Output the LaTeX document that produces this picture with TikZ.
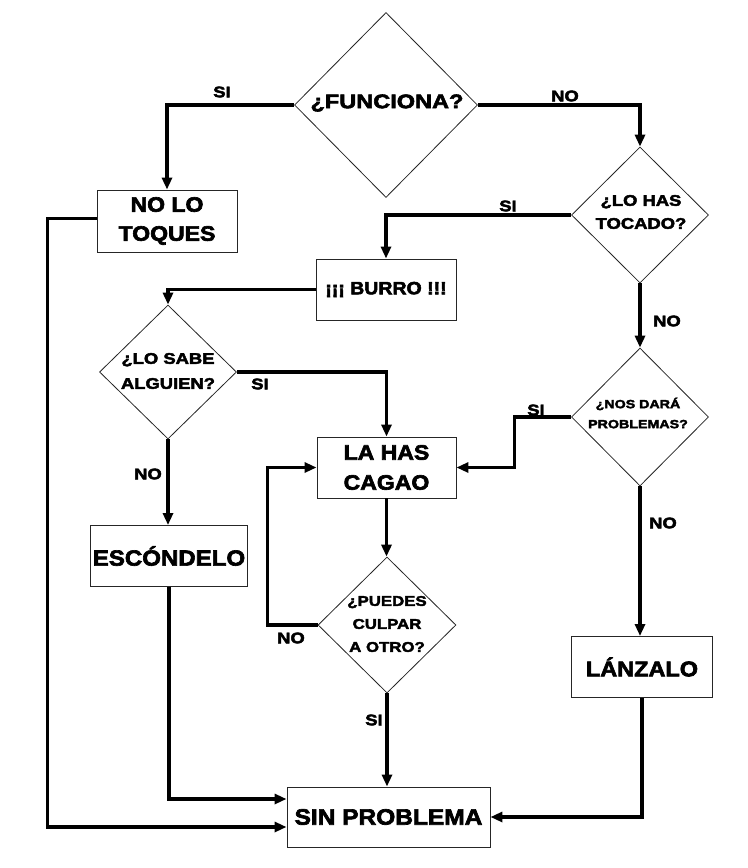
\documentclass[tikz,border=0pt]{standalone}
\usepackage{fontspec}
\usetikzlibrary{shapes.geometric,arrows.meta}
\newfontfamily\fbig{Liberation Sans}[UprightFont=* Bold,FakeStretch=1.1,FakeBold=3]
\newfontfamily\fwide{Liberation Sans}[UprightFont=* Bold,FakeStretch=1.2,FakeBold=3]
\begin{document}
\begin{tikzpicture}[x=0.75pt,y=-0.75pt,
  rbox/.style 2 args={rectangle,draw=black!85,line width=0.7pt,inner sep=0pt,align=center,
    minimum width={#1*0.75pt},minimum height={#2*0.75pt}},
  dia/.style 2 args={diamond,draw=black!85,line width=0.6pt,inner sep=0pt,
    minimum width={#1*0.75pt},minimum height={#2*0.75pt}},
  dtext/.style={inner sep=0pt,align=center},
  conn/.style={line width=2.4pt,-{Triangle[length=9pt,width=7.5pt]}},
  lbl/.style={inner sep=0pt,font=\fwide\fontsize{11.5}{14}\selectfont}]
\fill[white] (0,0) rectangle (748,868);
\useasboundingbox (0,0) rectangle (748,868);

% diamonds
\node[dia={183}{185}] (d1) at (386,105) {};
\node[dtext,font=\fwide\fontsize{14.7}{17}\selectfont] (t1) at (387,103) {¿FUNCIONA?};
\node[dia={137}{136}] (d2) at (640,215) {};
\node[dtext,font=\fwide\fontsize{11.5}{17.25}\selectfont] (t2) at (641,212) {¿LO HAS\\TOCADO?};
\node[dia={137}{134}] (d3) at (168,372) {};
\node[dtext,font=\fwide\fontsize{11.5}{18.75}\selectfont] (t3) at (168,371) {¿LO SABE\\ALGUIEN?};
\node[dia={137}{138}] (d4) at (640,417) {};
\node[dtext,font=\fwide\fontsize{8.9}{15}\selectfont] (t4) at (638,413) {¿NOS DARÁ\\PROBLEMAS?};
\node[dia={138}{136}] (d5) at (387,625) {};
\node[dtext,font=\fwide\fontsize{10.5}{17.25}\selectfont] (t5) at (387,624) {¿PUEDES\\CULPAR\\A OTRO?};

% boxes
\node[rbox={140}{62},font=\fbig\fontsize{15.7}{21.75}\selectfont] (nolo) at (167,221) {NO LO\\TOQUES};
\node[rbox={140}{61},font=\fbig\fontsize{13.3}{16}\selectfont] (burro) at (386,289.5) {¡¡¡ BURRO !!!};
\node[rbox={139}{61},font=\fbig\fontsize{15.7}{22.5}\selectfont] (cagao) at (386.5,467.5) {LA HAS\\CAGAO};
\node[rbox={157}{61},font=\fbig\fontsize{16.4}{20}\selectfont] (esc) at (169,556) {ESCÓNDELO};
\node[rbox={141}{61},font=\fbig\fontsize{16}{20}\selectfont] (lanz) at (642,667) {LÁNZALO};
\node[rbox={203}{60},font=\fbig\fontsize{16.7}{20}\selectfont] (sinp) at (388.5,817) {SIN PROBLEMA};

% connectors
\draw[conn] (d1.west) -| (nolo.north);
\draw[conn] (d1.east) -| (d2.north);
\draw[conn] (d2.west) -| (burro.north);
\draw[conn] (d2.south) -- (d4.north);
\draw[conn] (burro.west) -| (d3.north);
\draw[conn] (d3.east) -| (cagao.north);
\draw[conn] (d3.south) -- (d3.south |- esc.north);
\draw[conn] (cagao.south) -- (cagao.south |- d5.north);
\draw[conn] (d5.west) -- ++(-50,0) |- (cagao.west);
\draw[conn] (d4.west) -- ++(-57,0) |- (cagao.east);
\draw[conn] (d4.south) -- (d4.south |- lanz.north);
\draw[conn] (d5.south) -- (d5.south |- sinp.north);
\draw[conn] (esc.south) |- ([yshift=13.5pt]sinp.west);
\draw[conn] ([yshift=2pt]nolo.west) -- ++(-49,0) |- ([yshift=-7.5pt]sinp.west);
\draw[conn] (lanz.south) |- (sinp.east);

% labels
\node[lbl] (l1) at (222,92) {SI};
\node[lbl] (l2) at (565,96) {NO};
\node[lbl] (l3) at (508,206) {SI};
\node[lbl] (l4) at (667,321) {NO};
\node[lbl] (l5) at (260,384) {SI};
\node[lbl] (l6) at (148,474) {NO};
\node[lbl] (l7) at (291,638) {NO};
\node[lbl] (l8) at (536,410) {SI};
\node[lbl] (l9) at (663,523) {NO};
\node[lbl] (l10) at (374,720) {SI};
\end{tikzpicture}
\end{document}
